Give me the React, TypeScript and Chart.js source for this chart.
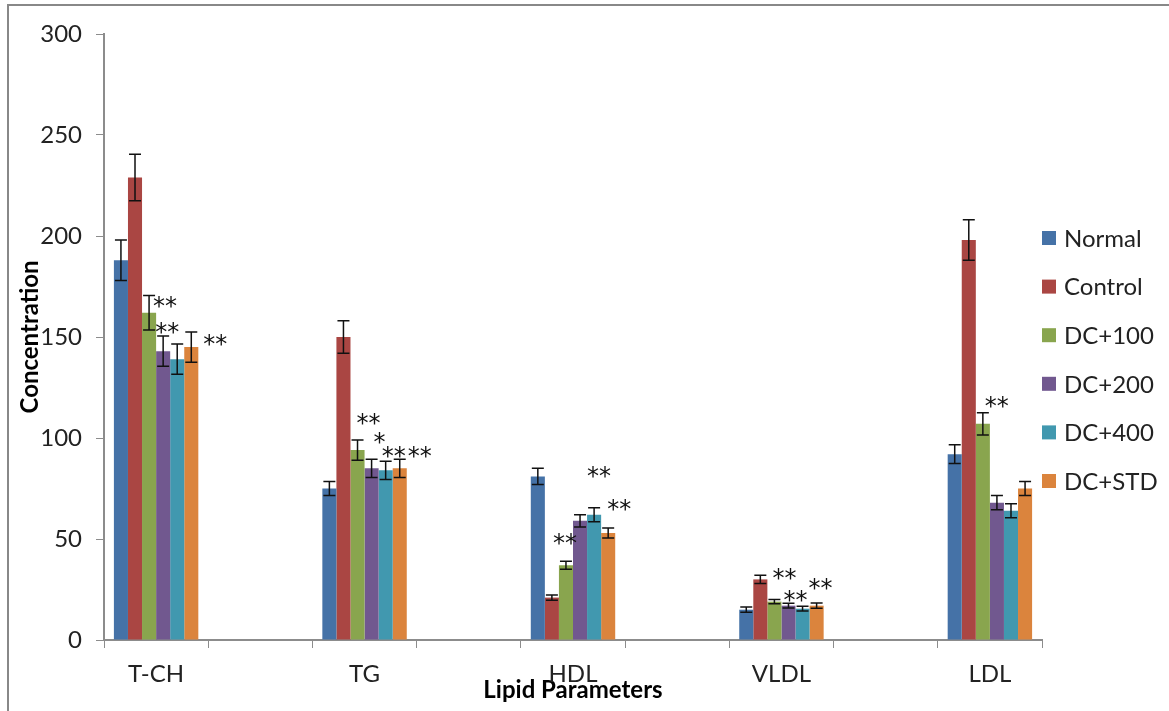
import React, { useEffect, useRef } from 'react';
import { Chart, registerables } from 'chart.js';

Chart.register(...registerables);

// ---------- data ----------
const categories = ['T-CH', 'TG', 'HDL', 'VLDL', 'LDL'];
const seriesNames = ['Normal', 'Control', 'DC+100', 'DC+200', 'DC+400', 'DC+STD'];

const normalValues = [188, 75, 81, 15, 92];
const controlValues = [229, 150, 21, 30, 198];
const dc100Values = [162, 94, 37, 19, 107];
const dc200Values = [143, 85, 59, 17, 68];
const dc400Values = [139, 84, 62, 15.5, 64];
const dcStdValues = [145, 85, 53, 17, 75];

const normalErrors = [10, 3.5, 4, 1.3, 4.6];
const controlErrors = [11.5, 8, 1.3, 2, 10];
const dc100Errors = [8.5, 5, 2, 1, 5.5];
const dc200Errors = [7.5, 4.5, 3, 1.2, 3.5];
const dc400Errors = [7.5, 4.5, 3.5, 1.2, 3.5];
const dcStdErrors = [7.5, 4.5, 2.5, 1.3, 3.5];

const yTicks = [0, 50, 100, 150, 200, 250, 300];

// significance marks: category, series index, text
const sigCategories = ['T-CH', 'T-CH', 'T-CH', 'TG', 'TG', 'TG', 'TG', 'HDL', 'HDL', 'HDL', 'VLDL', 'VLDL', 'VLDL', 'LDL'];
const sigSeries = [2, 3, 5, 2, 3, 4, 5, 2, 4, 5, 2, 3, 5, 2];
const sigTexts = ['**', '**', '**', '**', '*', '**', '**', '**', '**', '**', '**', '**', '**', '**'];

// ---------- layout / style (not data) ----------
const sigDx = [16, 4, 24, 11, 8, 8, 20, -1, 5, 11, 10, 7, 4, 14];
const sigDy = [4, -10, 6, -23, -23, -11, -9, -24, -38, -25, -28, -9, -21, -13];

const colors = ['#4572A7', '#AA4643', '#89A54E', '#71588F', '#4198AF', '#DB843D'];
const FONT = 'Lato, "Open Sans", sans-serif';
const STAR_FONT = '"DejaVu Sans", sans-serif';
const TEXT = '#222222';
const AXIS = '#8c8c8c';

export default function App() {
  const ref = useRef<HTMLCanvasElement>(null);

  useEffect(() => {
    const canvas = ref.current;
    if (!canvas) return;

    const slotLabels: string[] = [];
    categories.forEach((c, i) => {
      slotLabels.push(c);
      if (i < categories.length - 1) slotLabels.push('');
    });
    const toSlots = (arr: number[]) => {
      const out: (number | null)[] = [];
      arr.forEach((v, i) => {
        out.push(v);
        if (i < arr.length - 1) out.push(null);
      });
      return out;
    };
    const allValues = [normalValues, controlValues, dc100Values, dc200Values, dc400Values, dcStdValues];
    const allErrors = [normalErrors, controlErrors, dc100Errors, dc200Errors, dc400Errors, dcStdErrors];

    const framePlugin = {
      id: 'frame',
      beforeDraw(chart: any) {
        const ctx = chart.ctx;
        ctx.save();
        ctx.fillStyle = '#ffffff';
        ctx.fillRect(0, 0, chart.width, chart.height);
        ctx.strokeStyle = '#888888';
        ctx.lineWidth = 2;
        ctx.beginPath();
        ctx.moveTo(8, chart.height);
        ctx.lineTo(8, 5);
        ctx.lineTo(chart.width, 5);
        ctx.stroke();
        ctx.restore();
      },
    };

    const errorBarPlugin = {
      id: 'errorBars',
      afterDatasetsDraw(chart: any) {
        const ctx = chart.ctx;
        const y = chart.scales.y;
        ctx.save();
        ctx.strokeStyle = '#111111';
        ctx.lineWidth = 1.5;
        chart.data.datasets.forEach((ds: any, di: number) => {
          const meta = chart.getDatasetMeta(di);
          ds.data.forEach((v: number | null, i: number) => {
            if (v === null) return;
            const err = ds.errors[i];
            const el = meta.data[i];
            const x = el.x;
            const yt = y.getPixelForValue(v + err);
            const yb = y.getPixelForValue(v - err);
            ctx.beginPath();
            ctx.moveTo(x, yt);
            ctx.lineTo(x, yb);
            ctx.moveTo(x - 6, yt);
            ctx.lineTo(x + 6, yt);
            ctx.moveTo(x - 6, yb);
            ctx.lineTo(x + 6, yb);
            ctx.stroke();
          });
        });
        ctx.restore();
      },
    };

    const starPlugin = {
      id: 'stars',
      afterDatasetsDraw(chart: any) {
        const ctx = chart.ctx;
        const y = chart.scales.y;
        ctx.save();
        ctx.fillStyle = '#111111';
        ctx.font = `24px ${STAR_FONT}`;
        ctx.textAlign = 'center';
        ctx.textBaseline = 'alphabetic';
        sigTexts.forEach((t, k) => {
          const ci = categories.indexOf(sigCategories[k]);
          const si = sigSeries[k];
          const slot = ci * 2;
          const el = chart.getDatasetMeta(si).data[slot];
          const v = allValues[si][ci] + allErrors[si][ci];
          const cx = el.x + sigDx[k];
          const cy = y.getPixelForValue(v) + sigDy[k];
          ctx.fillText(t, cx, cy + 14);
        });
        ctx.restore();
      },
    };

    const legendPlugin = {
      id: 'customLegend',
      afterDraw(chart: any) {
        const ctx = chart.ctx;
        ctx.save();
        ctx.font = `24px ${FONT}`;
        ctx.textAlign = 'left';
        ctx.textBaseline = 'middle';
        seriesNames.forEach((name, i) => {
          const cy = 238 + i * 48.6;
          ctx.fillStyle = colors[i];
          ctx.fillRect(1042, cy - 7, 14, 14);
          ctx.fillStyle = TEXT;
          ctx.fillText(name, 1064, cy + 1);
        });
        ctx.restore();
      },
    };

    const chart = new Chart(canvas, {
      type: 'bar',
      data: {
        labels: slotLabels,
        datasets: seriesNames.map((name, i) => ({
          label: name,
          data: toSlots(allValues[i]),
          errors: toSlots(allErrors[i]),
          backgroundColor: colors[i],
          borderWidth: 0,
          barPercentage: 1,
          categoryPercentage: 0.81,
        })) as any,
      },
      options: {
        responsive: false,
        animation: false,
        layout: { padding: { top: 34, right: 127, bottom: 0, left: 0 } },
        plugins: {
          legend: { display: false },
          tooltip: { enabled: false },
          title: { display: false },
        },
        scales: {
          x: {
            offset: true,
            afterFit(scale: any) {
              scale.height = 71;
            },
            grid: {
              display: true,
              drawOnChartArea: false,
              drawTicks: true,
              tickLength: 8,
              color: AXIS,
              offset: true,
            },
            border: { display: true, color: AXIS, width: 2 },
            ticks: {
              autoSkip: false,
              maxRotation: 0,
              minRotation: 0,
              padding: 12,
              color: TEXT,
              font: { family: FONT, size: 24 },
            },
            title: {
              display: true,
              text: 'Lipid Parameters',
              color: '#000',
              font: { family: FONT, size: 24, weight: 'bold' },
              padding: { top: 0, bottom: 6 },
            },
          },
          y: {
            min: 0,
            max: 300,
            afterFit(scale: any) {
              scale.width = 104;
            },
            afterBuildTicks(scale: any) {
              scale.ticks = yTicks.map((v) => ({ value: v }));
            },
            grid: {
              display: true,
              drawOnChartArea: false,
              drawTicks: true,
              tickLength: 8,
              color: AXIS,
            },
            border: { display: true, color: AXIS, width: 2 },
            ticks: {
              padding: 14,
              color: TEXT,
              font: { family: FONT, size: 24 },
            },
            title: {
              display: true,
              text: 'Concentration',
              color: '#000',
              font: { family: FONT, size: 24, weight: 'bold' },
              padding: { top: 16, bottom: 0 },
            },
          },
        },
      },
      plugins: [framePlugin, errorBarPlugin, starPlugin, legendPlugin],
    });

    return () => chart.destroy();
  }, []);

  return (
    <div style={{ position: 'absolute', left: 0, top: 0, width: 1169, height: 711, background: '#fff' }}>
      <canvas ref={ref} width={1169} height={711} style={{ display: 'block', width: 1169, height: 711 }} />
    </div>
  );
}
